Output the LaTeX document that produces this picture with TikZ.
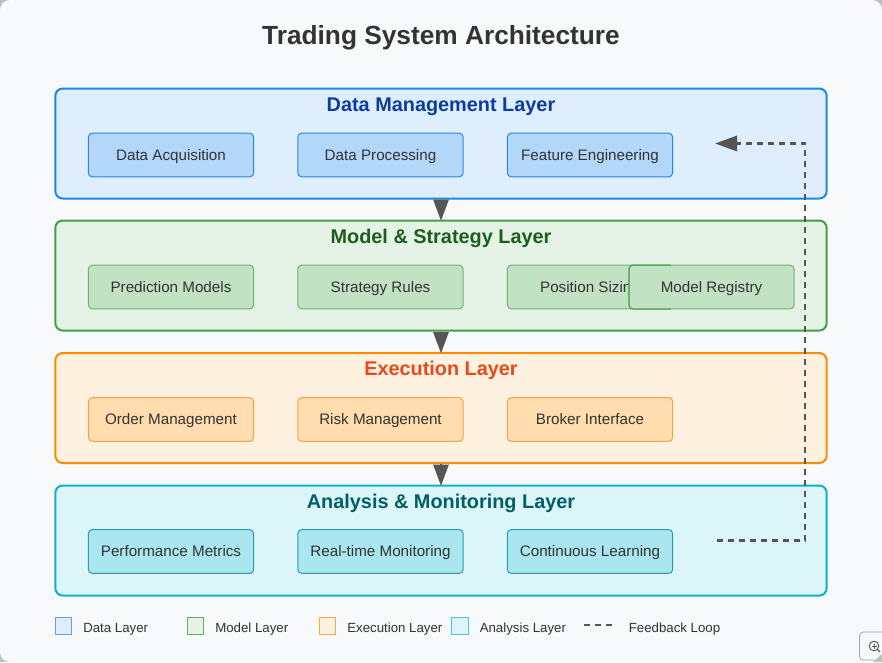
\documentclass[tikz,border=0pt]{standalone}
\usepackage{fontspec}
\setmainfont{Liberation Sans}
\usetikzlibrary{arrows.meta}
\definecolor{pagebg}{HTML}{F8F9FA}
\definecolor{cornerbg}{HTML}{B5C4BE}
\definecolor{inkc}{HTML}{333333}
\definecolor{flowc}{HTML}{555555}
\definecolor{dataline}{HTML}{1E88E5}
\definecolor{datafill}{HTML}{DEEEFC}
\definecolor{datasub}{HTML}{B3D7F9}
\definecolor{datastroke}{HTML}{2B85E8}
\definecolor{datahead}{HTML}{0D3C9E}
\definecolor{modelline}{HTML}{43A047}
\definecolor{modelfill}{HTML}{E5F3E6}
\definecolor{modelsub}{HTML}{C1E2C3}
\definecolor{modelstroke}{HTML}{6FB274}
\definecolor{modelhead}{HTML}{1B5E20}
\definecolor{execline}{HTML}{FB8C00}
\definecolor{execfill}{HTML}{FFF1DF}
\definecolor{execsub}{HTML}{FFDDAE}
\definecolor{execstroke}{HTML}{F4A14A}
\definecolor{exechead}{HTML}{E64A19}
\definecolor{analine}{HTML}{0FB2CC}
\definecolor{anafill}{HTML}{DBF5F9}
\definecolor{anasub}{HTML}{A9E6EF}
\definecolor{anastroke}{HTML}{2A9DAF}
\definecolor{anahead}{HTML}{006064}
\tikzset{
  layerbox/.style={shape=rectangle, rounded corners=5.5, line width=1.5pt, minimum width=578.5pt, minimum height=82.5pt, inner sep=0pt},
  subbox/.style={shape=rectangle, rounded corners=3, line width=0.75pt, minimum width=124pt, minimum height=32.8pt, inner sep=0pt, text=inkc, text height=10pt, text depth=2.5pt, font=\fontsize{11.4pt}{13pt}\selectfont},
  headtext/.style={text height=11pt, text depth=3pt, font=\bfseries\fontsize{14.9pt}{18pt}\selectfont},
  keybox/.style={shape=rectangle, line width=0.9pt, minimum size=12.5pt, inner sep=0pt},
  keytext/.style={anchor=west, inner sep=0pt, text=inkc, text height=8pt, text depth=2pt, font=\fontsize{9.95pt}{12pt}\selectfont},
  flowline/.style={draw=flowc, line width=1.5pt, shorten >=-1pt, -{Triangle[length=16pt, width=11.5pt]}},
  backline/.style={draw=flowc, line width=1.6pt, dash pattern=on 4.5pt off 3.75pt, -{Triangle[length=16.5pt, width=11.5pt]}}
}
\begin{document}
\begin{tikzpicture}[x=0.75pt, y=-0.75pt]
     \useasboundingbox (0,0) rectangle (882,662);
     \fill[cornerbg] (0,0) rectangle (882,662);
     \fill[pagebg] (0,0) [rounded corners=7.5] rectangle (882,662);

     \node[text height=15pt, text depth=4pt, font=\bfseries\fontsize{19.7pt}{24pt}\selectfont, text=inkc] (title) at (441,37) {Trading System Architecture};

     % layers
     \node[layerbox, draw=dataline, fill=datafill]   (datalayer)  at (441,143.5) {};
     \node[layerbox, draw=modelline, fill=modelfill] (modellayer) at (441,275.5) {};
     \node[layerbox, draw=execline, fill=execfill]   (execlayer)  at (441,408) {};
     \node[layerbox, draw=analine, fill=anafill]     (analayer)   at (441,540.5) {};

     \node[headtext, text=datahead]  (datatitle)  at (441,106.2) {Data Management Layer};
     \node[headtext, text=modelhead] (modeltitle) at (441,238.2) {Model \& Strategy Layer};
     \node[headtext, text=exechead]  (exectitle)  at (441,370.2) {Execution Layer};
     \node[headtext, text=anahead]   (anatitle)   at (441,503.2) {Analysis \& Monitoring Layer};

     % components
     \node[subbox, draw=datastroke, fill=datasub] (acquire) at (171,155) {Data Acquisition};
     \node[subbox, draw=datastroke, fill=datasub] (process) at (380.5,155) {Data Processing};
     \node[subbox, draw=datastroke, fill=datasub] (feature) at (590,155) {Feature Engineering};

     \node[subbox, draw=modelstroke, fill=modelsub] (predict)  at (171,287) {Prediction Models};
     \node[subbox, draw=modelstroke, fill=modelsub] (rules)    at (380.5,287) {Strategy Rules};
     \node[subbox, draw=modelstroke, fill=modelsub] (sizing)   at (590,287) {Position Sizing};
     \node[subbox, draw=modelstroke, fill=modelsub] (registry) at (711.5,287) {Model Registry};
     % darker where the two boxes overlap
     \draw[modelline, line width=0.75pt, rounded corners=3] (671,265) -- (629,265) -- (629,309) -- (671,309);

     \node[subbox, draw=execstroke, fill=execsub] (orders) at (171,419.5) {Order Management};
     \node[subbox, draw=execstroke, fill=execsub] (risk)   at (380.5,419.5) {Risk Management};
     \node[subbox, draw=execstroke, fill=execsub] (broker) at (590,419.5) {Broker Interface};

     \node[subbox, draw=anastroke, fill=anasub] (metrics)  at (171,551.5) {Performance Metrics};
     \node[subbox, draw=anastroke, fill=anasub] (monitor)  at (380.5,551.5) {Real-time Monitoring};
     \node[subbox, draw=anastroke, fill=anasub] (learning) at (590,551.5) {Continuous Learning};

     % flow between layers
     \draw[flowline] (datalayer) -- (modellayer);
     \draw[flowline] (modellayer) -- (execlayer);
     \draw[flowline] (execlayer) -- (analayer);

     % feedback
     \coordinate (backstart) at (716.5,540.5);
     \coordinate (backend) at (715,143.5);
     \draw[backline] (backstart) -- (805,540.5) -- (805,143.5) -- (backend);

     % legend
     \node[keybox, draw=dataline!75, fill=datafill]   (keydata)  at (63.5,626) {};
     \node[keytext] (keydatatext)  at (83,628) {Data Layer};
     \node[keybox, draw=modelline!85, fill=modelfill] (keymodel) at (195.5,626) {};
     \node[keytext] (keymodeltext) at (215,628) {Model Layer};
     \node[keybox, draw=execline!75, fill=execfill]   (keyexec)  at (327.5,626) {};
     \node[keytext] (keyexectext)  at (347,628) {Execution Layer};
     \node[keybox, draw=analine!75, fill=anafill]     (keyana)   at (460,626) {};
     \node[keytext] (keyanatext)   at (479.5,628) {Analysis Layer};
     \coordinate (keybackstart) at (584,625);
     \coordinate (keybackend) at (612.5,625);
     \draw[draw=flowc, line width=1.6pt, dash pattern=on 4.5pt off 3.75pt] (keybackstart) -- (keybackend);
     \node[keytext] (keybacktext)  at (628.5,628) {Feedback Loop};

     % zoom button in the corner
     \draw[fill=pagebg, draw=gray!70, line width=0.6pt, rounded corners=3] (885,660) -- (859.5,660) -- (859.5,632) -- (885,632);
     \fill[cornerbg] (882,654) -- (882,662) -- (873,662) -- cycle;
     \node[shape=circle, draw=inkc!80, line width=0.7pt, minimum size=7.2pt, inner sep=0pt] (lens) at (874,646) {};
     \coordinate (lensgrip) at (880,652);
     \draw[inkc!80, line width=0.9pt] (lens) -- (lensgrip);
     \draw[inkc!80, line width=0.5pt] (871.5,646) -- (876.5,646) (874,643.5) -- (874,648.5);
\end{tikzpicture}
\end{document}
